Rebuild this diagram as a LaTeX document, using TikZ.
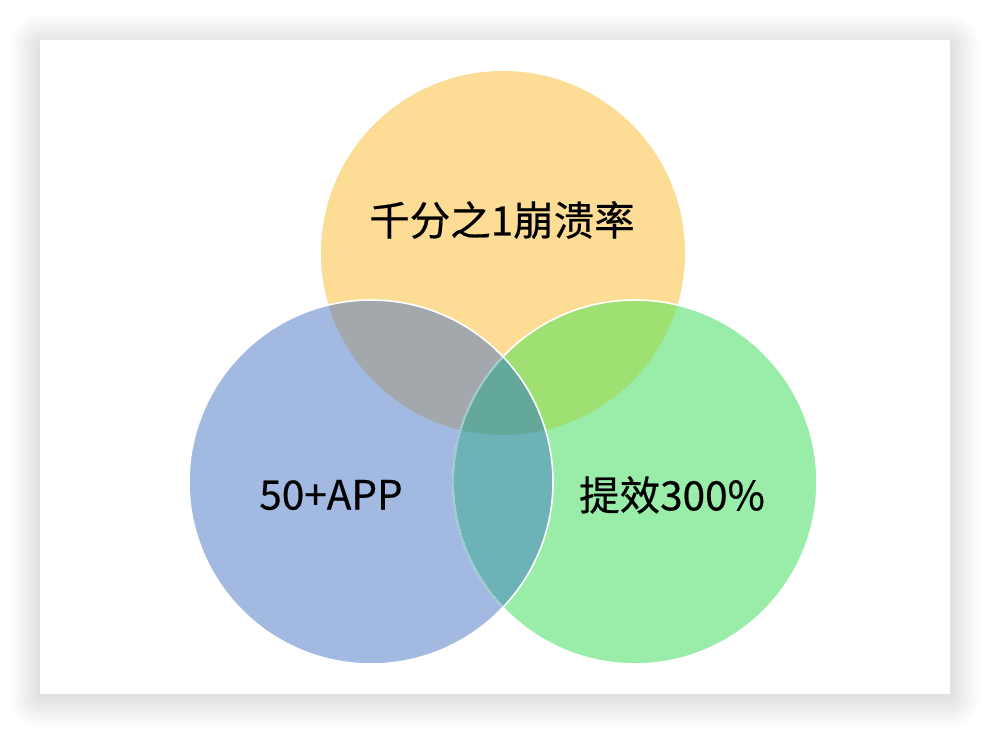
\documentclass[tikz,border=0pt]{standalone}
\usepackage{fontspec}
\setmainfont{Noto Sans CJK SC}
\newfontfamily\lblfont[FakeBold=0.5]{Noto Sans CJK SC}
\definecolor{cOrange}{RGB}{253,221,150}
\definecolor{cBlue}{RGB}{162,185,225}
\definecolor{cGreen}{RGB}{153,237,168}
\definecolor{cGray}{RGB}{162,168,172}
\definecolor{cYG}{RGB}{158,224,113}
\definecolor{cTeal}{RGB}{109,178,182}
\definecolor{cCenter}{RGB}{99,168,153}
\tikzset{
  card/.style={fill=white, draw=none},
  lbl/.style={font=\lblfont\fontsize{40.5}{42}\selectfont, text=black, inner sep=0pt},
  rim/.style={draw=white, line width=1.6pt}
}
\begin{document}
\begin{tikzpicture}[x=1pt,y=1pt]
\useasboundingbox (0,0) rectangle (990,734);
\fill[white] (0,0) rectangle (990,734);
% soft shadow
\foreach \i in {1,...,30}{
  \fill[black, opacity=0.0045, rounded corners={\i*1pt}] (40-\i,40-\i-3) rectangle (950+\i,694+\i-5);
}
\node[card, minimum width=910pt, minimum height=654pt, inner sep=0pt] (card) at (495,367) {};
% circle centres
\coordinate (cO) at (503,481);
\coordinate (cB) at (371,252);
\coordinate (cG) at (635,252);
\def\R{182}
% base fills
\fill[cOrange] (cO) circle (\R);
\fill[cBlue] (cB) circle (\R);
\fill[cGreen] (cG) circle (\R);
% pairwise overlaps
\begin{scope}
  \clip (cO) circle (\R);
  \fill[cGray] (cB) circle (\R);
  \fill[cYG] (cG) circle (\R);
\end{scope}
\begin{scope}
  \clip (cB) circle (\R);
  \fill[cTeal] (cG) circle (\R);
\end{scope}
\begin{scope}
  \clip (cO) circle (\R);
  \clip (cB) circle (\R);
  \fill[cCenter] (cG) circle (\R);
\end{scope}
% rims
\draw[rim] (cG) circle (\R);
\begin{scope}
  \clip (cB) circle (\R);
  \draw[draw=cTeal!70!white, line width=1.6pt] (cG) circle (\R);
\end{scope}
\draw[rim] (cB) circle (\R);
% labels
\node[lbl] (tO) at (502,514) {千分之1崩溃率};
\node[lbl] (tB) at (331,239) {50+APP};
\node[lbl] (tG) at (672,239) {提效300\%};
\end{tikzpicture}
\end{document}
